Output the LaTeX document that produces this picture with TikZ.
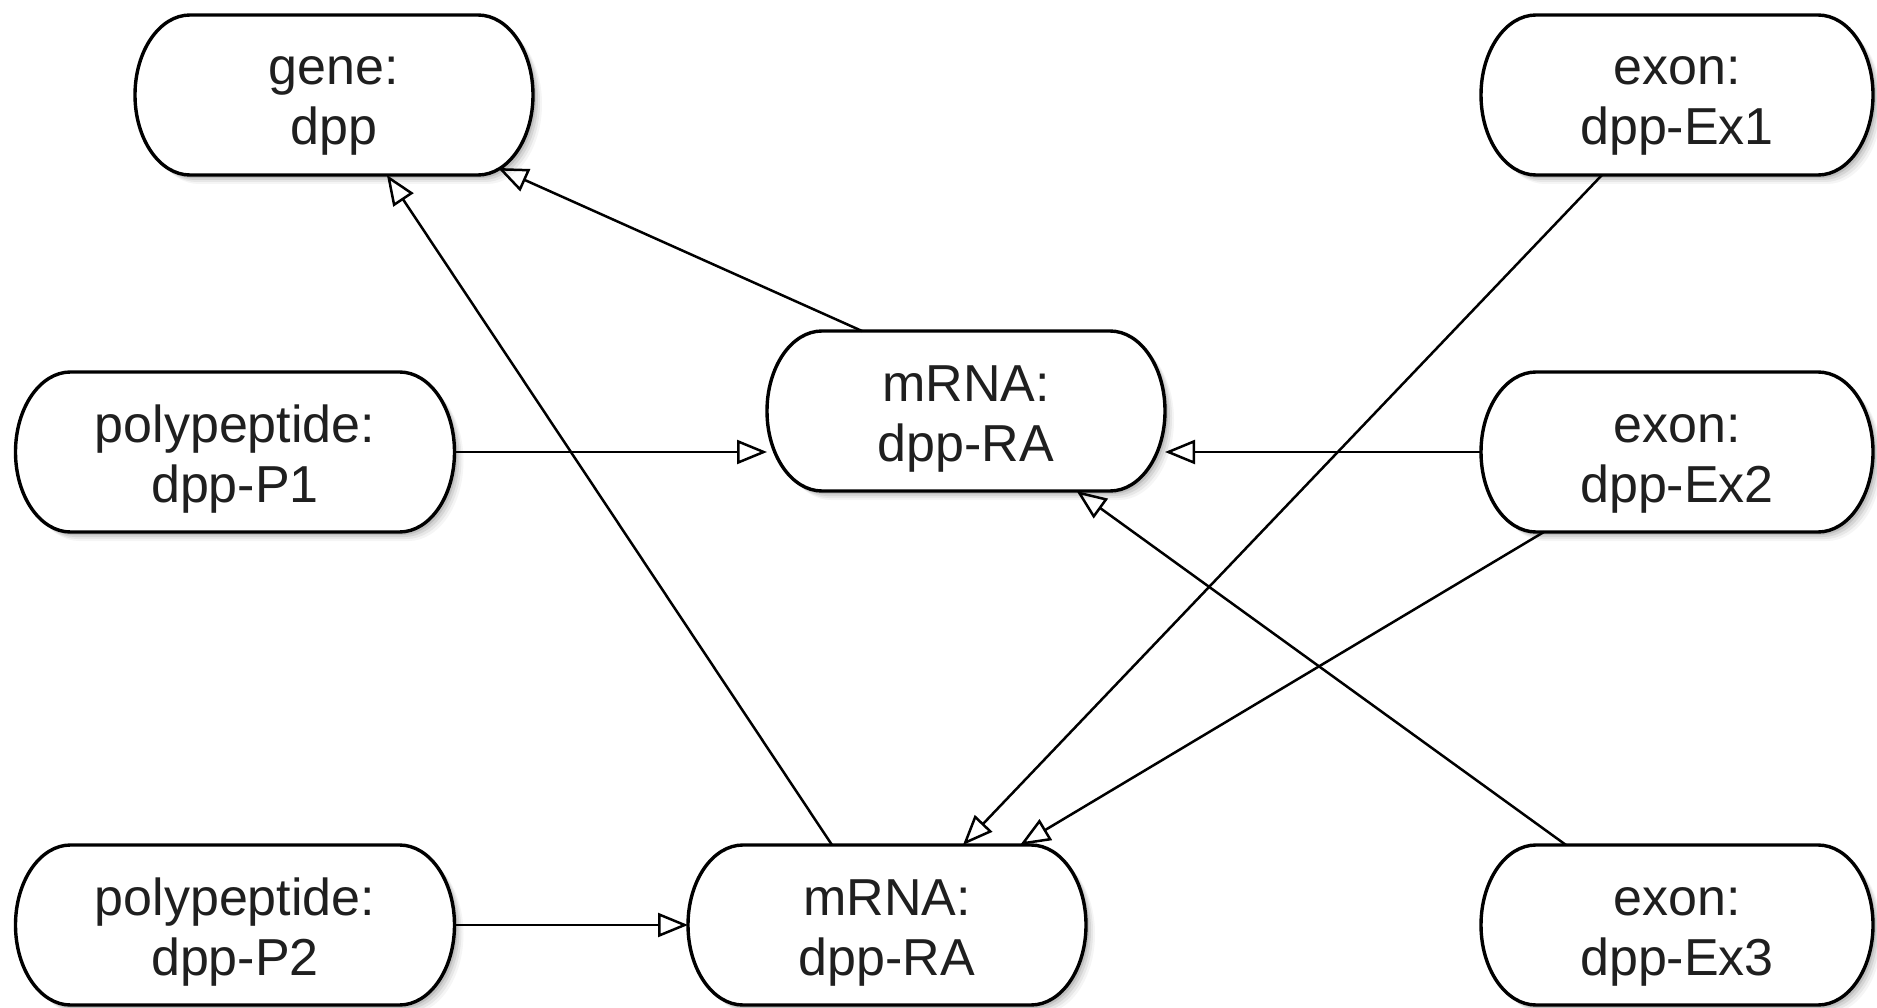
\documentclass[tikz,border=0pt]{standalone}
\usepackage{fontspec}
\setmainfont{Liberation Sans}
\usetikzlibrary{arrows.meta,backgrounds}
\newcommand{\twoline}[2]{\raisebox{10pt}[0pt][0pt]{\begin{tabular}[t]{@{}c@{}}#1\\#2\end{tabular}}}
\begin{document}
\begin{tikzpicture}[x=1pt,y=1pt,
  feat/.style={rectangle, draw=none, outer sep=0pt, minimum height=160pt,
    inner sep=0pt, text=black!88, font=\fontsize{52}{60}\selectfont},
  border/.style={draw=black, line width=3.4pt, fill=white},
  shade/.style={fill=black, draw=none},
  rel/.style={line width=2.5pt, draw=black,
    -{Triangle[open,length=30pt,width=24pt,line width=2.5pt]}}
]
\useasboundingbox (0,0) rectangle (1877,-1008);
\node[feat, minimum width=398pt] (gene) at (334,-95) {\twoline{gene:}{dpp}};
\node[feat, minimum width=392pt] (ex1) at (1677,-95) {\twoline{exon:}{dpp-Ex1}};
\node[feat, minimum width=398pt] (mid) at (966,-411) {\twoline{mRNA:}{dpp-RA}};
\node[feat, minimum width=439pt] (p1) at (235,-452) {\twoline{polypeptide:}{dpp-P1}};
\node[feat, minimum width=392pt] (ex2) at (1677,-452) {\twoline{exon:}{dpp-Ex2}};
\node[feat, minimum width=439pt] (p2) at (235,-925) {\twoline{polypeptide:}{dpp-P2}};
\node[feat, minimum width=398pt] (bot) at (887,-925) {\twoline{mRNA:}{dpp-RA}};
\node[feat, minimum width=392pt] (ex3) at (1677,-925) {\twoline{exon:}{dpp-Ex3}};

\begin{scope}[on background layer]
\foreach \n in {gene,ex1,mid,p1,ex2,p2,bot,ex3} {
  \foreach \s/\o in {9/0.04,7/0.06,5/0.08,3/0.1} {
    \fill[shade, opacity=\o]
      ([xshift=55pt+\s pt, yshift=-\s pt]\n.north west) -- ([xshift=-55pt+\s pt, yshift=-\s pt]\n.north east)
      arc[start angle=90, end angle=-90, x radius=55pt, y radius=80pt]
      -- ([xshift=55pt+\s pt, yshift=-\s pt]\n.south west)
      arc[start angle=270, end angle=90, x radius=55pt, y radius=80pt] -- cycle;
  }
  \path[border]
    ([xshift=55pt]\n.north west) -- ([xshift=-55pt]\n.north east)
    arc[start angle=90, end angle=-90, x radius=55pt, y radius=80pt]
    -- ([xshift=55pt]\n.south west)
    arc[start angle=270, end angle=90, x radius=55pt, y radius=80pt] -- cycle;
}
\end{scope}

\coordinate (genetip) at ([xshift=-35pt,yshift=7pt]gene.south east);
\draw[rel] ([xshift=-104pt]mid.north) -- (genetip);
\draw[rel] ([xshift=-55pt]bot.north) -- (gene);
\draw[rel] (p1.east) -- (p1.east -| mid.west);
\draw[rel] (ex2.west) -- (ex2.west -| mid.east);
\draw[rel] (p2.east) -- (p2.east -| bot.west);
\draw[rel] ([xshift=-75pt]ex1.south) -- (bot);
\draw[rel] (ex2.211) -- (bot);
\draw[rel] ([xshift=-111pt]ex3.north) -- (mid);
\end{tikzpicture}
\end{document}
